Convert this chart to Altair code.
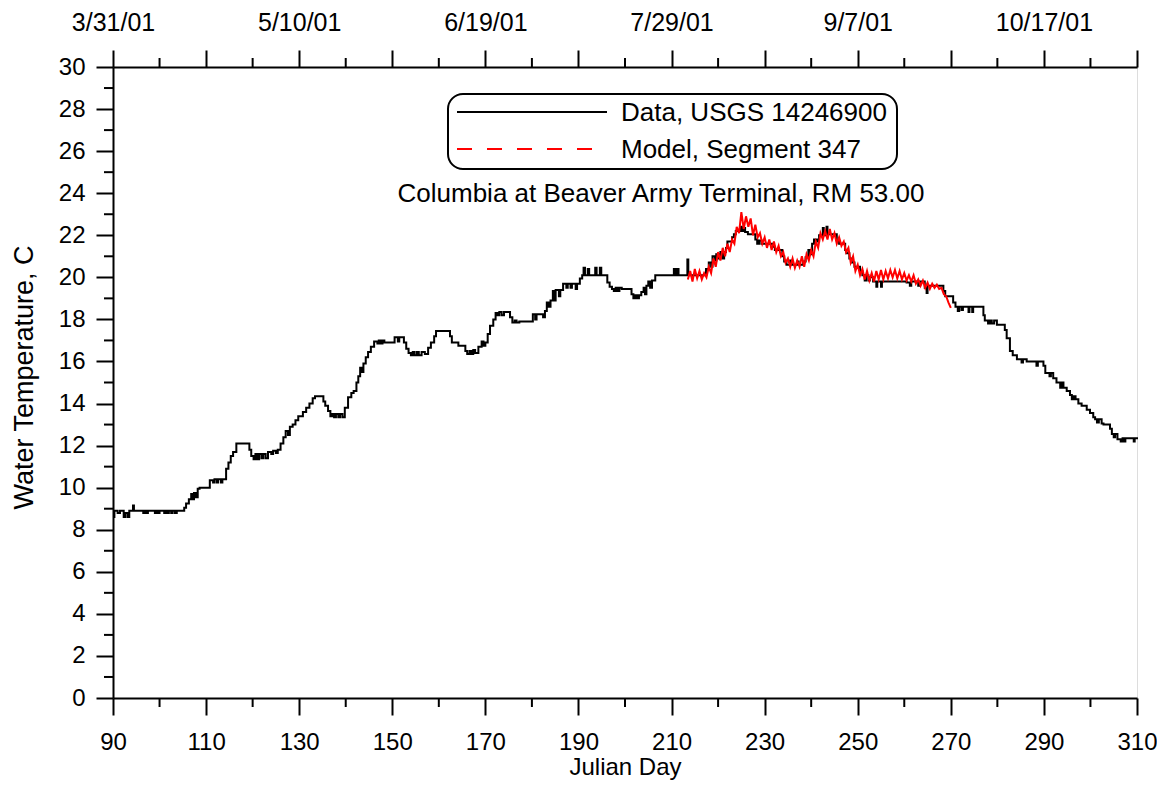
import altair as alt
import pandas as pd

# ---------------- data ----------------
# Observed data, USGS 14246900: step change points (day, deg C)
data_spring = [
    (90.0, 8.6), (90.3, 8.9), (91.0, 8.8), (91.5, 8.9), (92.3, 8.6), (92.7, 8.8), (93.2, 8.6), (93.5, 8.9),
    (94.3, 9.15), (94.5, 8.9), (96.5, 8.8), (96.8, 8.9), (97.2, 8.8), (97.5, 8.9), (99.0, 8.8), (99.3, 8.9),
    (99.7, 8.8), (100.0, 8.9), (101.0, 8.8), (101.3, 8.9), (101.7, 8.8), (102.0, 8.9), (102.5, 8.8), (102.8, 8.9),
    (103.3, 8.8), (103.7, 8.9), (105.3, 9.05), (105.7, 9.25), (106.3, 9.45), (106.8, 9.7), (107.1, 9.45),
    (107.4, 9.75), (107.8, 9.55), (108.2, 9.95), (108.6, 10.0), (110.8, 10.35), (111.5, 10.25), (111.8, 10.4),
    (112.3, 10.25), (112.6, 10.4), (113.2, 10.25), (113.5, 10.4), (114.3, 10.9), (114.8, 11.2), (115.3, 11.5),
    (115.8, 11.7), (116.5, 12.1), (119.3, 11.8), (119.7, 11.5), (120.2, 11.35), (120.6, 11.6), (121.0, 11.35),
    (121.4, 11.6), (121.9, 11.4), (122.3, 11.6), (122.8, 11.4), (123.3, 11.7), (124.0, 11.6), (124.4, 11.75),
    (125.0, 11.65), (125.4, 11.8), (126.0, 12.1), (126.6, 12.4), (127.1, 12.7), (127.6, 12.5), (128.0, 12.9),
    (128.6, 13.0), (129.2, 13.2), (129.8, 13.4), (130.8, 13.6), (131.5, 13.8), (132.2, 14.0), (132.9, 14.25),
    (133.4, 14.35), (135.2, 14.1), (135.6, 13.9), (136.2, 13.65), (136.7, 13.4), (137.1, 13.5), (137.5, 13.35),
    (137.9, 13.5), (138.4, 13.35), (138.8, 13.5), (139.3, 13.35), (139.8, 13.8), (140.5, 14.3), (141.2, 14.5),
    (141.7, 14.6), (142.3, 15.0), (142.7, 15.3), (143.1, 15.7), (143.5, 15.5), (143.8, 15.9), (144.3, 16.2),
    (144.8, 16.45), (145.4, 16.7), (146.1, 16.95), (146.8, 16.85), (147.1, 17.0), (147.5, 16.85), (147.9, 17.0),
    (148.3, 16.9),
]
data_summer = [
    (150.5, 17.15), (151.2, 16.95), (151.5, 17.15), (152.5, 16.9), (153.0, 16.6), (153.5, 16.4), (154.0, 16.3),
    (154.4, 16.45), (154.8, 16.3), (155.3, 16.45), (155.7, 16.3), (156.3, 16.45), (157.0, 16.35), (157.7, 16.65),
    (158.3, 16.9), (159.0, 17.2), (159.4, 17.45), (162.4, 17.2), (162.8, 16.9), (164.2, 16.75), (165.7, 16.5),
    (166.1, 16.35), (166.6, 16.5), (167.0, 16.35), (167.4, 16.55), (167.8, 16.4), (168.5, 16.7), (169.2, 16.95),
    (169.6, 16.75), (170.0, 16.9), (170.5, 17.3), (171.0, 17.7), (171.7, 18.0), (172.2, 18.3), (172.6, 18.2),
    (173.0, 18.35), (173.5, 18.2), (174.0, 18.35), (175.3, 18.1), (175.8, 17.85), (176.3, 17.95), (176.7, 17.85),
    (177.3, 17.9), (180.2, 18.25), (180.7, 18.0), (181.0, 18.25), (182.4, 18.1), (182.8, 18.4), (183.2, 18.8),
    (183.6, 18.6), (184.0, 18.9), (184.5, 19.35), (184.8, 18.9), (185.1, 19.4), (185.8, 19.1), (186.1, 19.4),
    (186.7, 19.7), (187.4, 19.5), (187.7, 19.7), (188.3, 19.5), (188.6, 19.7), (189.4, 19.45), (189.7, 19.7),
    (190.3, 19.95), (190.8, 20.1), (191.1, 20.45), (191.4, 20.1), (192.0, 20.4), (192.3, 20.1), (193.6, 20.45),
    (193.9, 20.1), (194.6, 20.45), (194.9, 20.1), (196.2, 19.75), (196.7, 19.55), (197.2, 19.45), (197.6, 19.35),
    (198.0, 19.5), (198.4, 19.35), (198.8, 19.5), (199.3, 19.45), (201.4, 19.2), (201.8, 19.0), (202.2, 19.15),
    (202.6, 19.0), (203.0, 19.15), (203.5, 19.3), (204.0, 19.5), (204.3, 19.2), (204.6, 19.6), (205.0, 19.8),
    (205.4, 19.5), (205.8, 19.85), (206.5, 20.1), (210.5, 20.4), (210.8, 20.1), (211.2, 20.4), (211.5, 20.1),
]
data_late_summer = [
    (213.4, 20.85), (213.6, 20.1), (217.4, 20.4), (218.0, 20.7), (218.5, 20.5), (218.8, 21.0), (219.3, 20.8),
    (219.6, 21.1), (220.2, 20.9), (220.5, 21.2), (221.0, 20.9), (221.3, 21.2), (221.7, 21.4), (222.0, 21.7),
    (223.0, 21.9), (223.4, 22.05), (223.8, 22.2), (224.8, 22.4), (225.1, 22.2), (225.4, 22.35), (225.8, 22.15),
    (226.4, 22.05), (228.0, 21.8), (228.4, 21.6), (228.8, 21.75), (229.3, 21.6), (231.7, 21.45), (232.2, 21.3),
    (233.8, 21.0), (234.2, 20.75), (234.7, 20.6), (235.5, 20.8), (235.8, 20.6), (237.0, 20.75), (237.3, 20.6),
    (238.3, 20.75), (238.8, 20.95), (239.4, 21.3), (239.8, 21.1), (240.2, 21.6), (240.6, 21.8), (241.3, 21.7),
    (241.7, 22.0), (242.5, 22.35), (242.7, 22.0), (243.3, 22.4), (243.5, 22.05), (245.5, 21.75), (246.0, 21.6),
    (247.3, 21.3), (247.6, 21.15), (248.2, 20.9), (248.7, 20.7), (249.3, 20.5), (250.5, 20.3), (251.0, 20.1),
    (251.5, 19.85), (251.8, 20.1), (252.3, 19.85), (252.6, 20.0), (253.3, 19.8), (254.0, 19.55), (254.2, 19.8),
    (255.0, 19.55), (255.2, 19.8), (260.5, 19.75), (261.2, 19.6), (261.5, 19.8), (263.0, 19.6), (263.3, 19.8),
    (264.4, 19.5), (264.8, 19.25), (265.0, 19.6), (268.4, 19.35), (268.8, 19.1),
]
data_fall = [
    (270.5, 18.8), (271.0, 18.6), (271.5, 18.4), (271.8, 18.6), (272.3, 18.45), (272.6, 18.6), (273.8, 18.35),
    (274.0, 18.6), (274.6, 18.35), (274.8, 18.6), (277.0, 18.2), (277.3, 17.95), (278.0, 17.8), (278.4, 17.95),
    (278.8, 17.8), (279.3, 17.95), (279.9, 17.75), (281.6, 17.5), (282.0, 17.1), (282.7, 16.5), (283.3, 16.3),
    (284.2, 16.1), (285.2, 15.95), (285.5, 16.1), (286.3, 16.0), (288.4, 15.8), (288.7, 16.0), (289.9, 15.8),
    (290.3, 15.45), (291.2, 15.3), (291.5, 15.45), (292.0, 15.2), (292.7, 15.0), (293.5, 14.75), (293.8, 15.0),
    (294.2, 14.75), (294.9, 14.6), (295.6, 14.4), (296.0, 14.2), (296.4, 14.35), (296.8, 14.2), (297.4, 14.0),
    (298.1, 13.9), (299.2, 13.7), (299.9, 13.55), (300.6, 13.35), (301.0, 13.25), (301.4, 13.1), (301.8, 13.25),
    (302.4, 13.05), (302.8, 13.0), (304.2, 12.8), (304.6, 12.55), (305.0, 12.4), (305.3, 12.55), (305.8, 12.3),
    (306.5, 12.2), (306.9, 12.35), (307.2, 12.2), (307.5, 12.35), (309.3, 12.2), (309.5, 12.35), (310.0, 12.3),
]

# Model, Segment 347 (day, deg C)
model_aug = [
    (213.5, 19.9), (214.0, 20.3), (214.5, 19.8), (215.0, 20.4), (215.5, 19.95), (216.0, 20.3), (216.5, 19.9),
    (217.0, 20.2), (217.5, 20.0), (218.0, 20.5), (218.5, 20.2), (219.0, 20.9), (219.5, 20.5), (220.0, 21.2),
    (220.5, 20.8), (221.0, 21.4), (221.5, 21.0), (222.0, 21.6), (222.5, 21.2), (223.0, 21.8), (223.5, 21.6),
    (224.0, 22.4), (224.5, 22.1), (225.0, 23.1), (225.5, 22.3), (226.0, 22.9), (226.5, 22.4), (227.0, 22.8),
    (227.5, 22.0), (228.0, 22.5), (228.5, 21.9), (229.0, 22.1), (229.5, 21.6), (230.0, 21.9), (230.5, 21.4),
    (231.0, 21.8), (231.5, 21.3), (232.0, 21.7), (232.5, 21.2), (233.0, 21.5), (233.5, 21.0), (234.0, 21.2),
    (234.5, 20.7), (235.0, 20.9), (235.5, 20.5), (236.0, 20.9), (236.5, 20.45), (237.0, 20.8), (237.5, 20.5),
    (238.0, 21.0), (238.5, 20.5), (239.0, 21.1), (239.5, 20.8), (240.0, 21.3), (240.5, 21.0), (241.0, 21.7),
]
model_sep = [
    (241.5, 21.4), (242.0, 22.1), (242.5, 21.8), (243.0, 22.2), (243.5, 21.8), (244.0, 22.3), (244.5, 21.8),
    (245.0, 22.1), (245.5, 21.6), (246.0, 21.9), (246.5, 21.5), (247.0, 21.7), (247.5, 21.2), (248.0, 21.4),
    (248.5, 20.7), (249.0, 21.0), (249.5, 20.3), (250.0, 20.6), (250.5, 20.1), (251.0, 20.4), (251.5, 19.9),
    (252.0, 20.3), (252.5, 19.85), (253.0, 20.2), (253.5, 19.8), (254.0, 20.3), (254.5, 19.9), (255.0, 20.35),
    (255.5, 19.9), (256.0, 20.3), (256.5, 19.95), (257.0, 20.35), (257.5, 20.0), (258.0, 20.35), (258.5, 19.95),
    (259.0, 20.3), (259.5, 19.9), (260.0, 20.2), (260.5, 19.85), (261.0, 20.1), (261.5, 19.8), (262.0, 20.1),
    (262.5, 19.7), (263.0, 19.9), (263.5, 19.6), (264.0, 19.85), (264.5, 19.5), (265.0, 19.75), (265.5, 19.45),
    (266.0, 19.7), (266.5, 19.5), (267.0, 19.65), (267.5, 19.45), (268.0, 19.5), (268.5, 19.2), (269.0, 19.1),
    (269.5, 18.8), (270.0, 18.55),
]

# axis ticks and labels
x_major_ticks = [90, 110, 130, 150, 170, 190, 210, 230, 250, 270, 290, 310]
x_minor_ticks = [100, 120, 140, 160, 180, 200, 220, 240, 260, 280, 300]
y_major_ticks = [0, 2, 4, 6, 8, 10, 12, 14, 16, 18, 20, 22, 24, 26, 28, 30]
y_minor_ticks = [1, 3, 5, 7, 9, 11, 13, 15, 17, 19, 21, 23, 25, 27, 29]
date_label_days = [90, 130, 170, 210, 250, 290]
date_labels = ["3/31/01", "5/10/01", "6/19/01", "7/29/01", "9/7/01", "10/17/01"]

series_names = ["Data, USGS 14246900", "Model, Segment 347"]
plot_title = "Columbia at Beaver Army Terminal, RM 53.00"

# ---------------- chart ----------------
W, H = 1024, 631
FONT = "Liberation Sans"
FS_TICK = 24
FS_TEXT = 26

data_df = pd.DataFrame(data_spring + data_summer + data_late_summer + data_fall, columns=["day", "temp"])
model_df = pd.DataFrame(model_aug + model_sep, columns=["day", "temp"])
x_minor_df = pd.DataFrame({"day": x_minor_ticks})
y_minor_df = pd.DataFrame({"t": y_minor_ticks})
one = pd.DataFrame({"k": [0]})

x_scale = alt.Scale(domain=[90, 310], nice=False, zero=False)
y_scale = alt.Scale(domain=[0, 30], nice=False, zero=False)

common_axis = dict(
    tickSize=17, tickWidth=2, tickColor="black", domainWidth=2, domainColor="black",
    labelFont=FONT, labelFontSize=FS_TICK, labelColor="black", labelFlush=False, labelOverlap=False,
    titleFont=FONT, titleFontWeight="normal", titleColor="black", grid=False,
)

bottom_axis = alt.Axis(values=x_major_ticks, title="Julian Day", titleFontSize=24,
                       labelPadding=15, titleY=69, titleBaseline="middle", **common_axis)
left_axis = alt.Axis(values=y_major_ticks, title="Water Temperature, C", titleFontSize=27,
                     labelPadding=11, titlePadding=20, titleY=310, **common_axis)

label_expr = " : ".join(
    f"datum.value == {d} ? '{s}'" for d, s in zip(date_label_days, date_labels)
) + " : ''"
top_axis = alt.Axis(orient="top", values=x_major_ticks, labelExpr=label_expr, title=None,
                    labelPadding=15, labelFontSize=25,
                    **{k: v for k, v in common_axis.items() if k != "labelFontSize"})

data_line = alt.Chart(data_df).mark_line(
    color="black", strokeWidth=2, interpolate="step-after"
).encode(
    x=alt.X("day:Q", scale=x_scale, axis=bottom_axis),
    y=alt.Y("temp:Q", scale=y_scale, axis=left_axis),
)

model_line = alt.Chart(model_df).mark_line(color="#ff0000", strokeWidth=2).encode(
    x=alt.X("day:Q", scale=x_scale, axis=None),
    y=alt.Y("temp:Q", scale=y_scale, axis=left_axis),
)

top_minor = alt.Chart(x_minor_df).mark_rule(color="black", strokeWidth=2).encode(
    x=alt.X("day:Q", scale=x_scale, axis=top_axis),
    y=alt.value(0), y2=alt.value(-9),
)
bottom_minor = alt.Chart(x_minor_df).mark_rule(color="black", strokeWidth=2).encode(
    x=alt.X("day:Q", scale=x_scale, axis=None),
    y=alt.value(H), y2=alt.value(H + 9),
)
left_minor = alt.Chart(y_minor_df).mark_rule(color="black", strokeWidth=2).encode(
    y=alt.Y("t:Q", scale=y_scale, axis=left_axis),
    x=alt.value(0), x2=alt.value(-9),
)

legend_box = alt.Chart(one).mark_rect(
    fill="white", stroke="black", strokeWidth=2, cornerRadius=15
).encode(x=alt.value(335), x2=alt.value(784), y=alt.value(27), y2=alt.value(102))

legend_data = alt.Chart(one).mark_rule(color="black", strokeWidth=2).encode(
    x=alt.value(344), x2=alt.value(494), y=alt.value(45)
)
legend_model = alt.Chart(one).mark_rule(color="#ff0000", strokeWidth=2, strokeDash=[15, 15]).encode(
    x=alt.value(344), x2=alt.value(494), y=alt.value(82)
)
legend_text_data = alt.Chart(one).mark_text(
    text=series_names[0], font=FONT, fontSize=FS_TEXT, align="left", baseline="middle", color="black"
).encode(x=alt.value(508), y=alt.value(46))
legend_text_model = alt.Chart(one).mark_text(
    text=series_names[1], font=FONT, fontSize=FS_TEXT, align="left", baseline="middle", color="black"
).encode(x=alt.value(508), y=alt.value(83))
title_text = alt.Chart(one).mark_text(
    text=plot_title, font=FONT, fontSize=FS_TEXT, align="center", baseline="middle", color="black"
).encode(x=alt.value(548), y=alt.value(127))

chart = alt.layer(
    data_line, model_line, top_minor, bottom_minor, left_minor,
    legend_box, legend_data, legend_model, legend_text_data, legend_text_model, title_text,
).resolve_axis(x="independent").properties(
    width=W, height=H,
    autosize=alt.AutoSizeParams(type="none"),
    padding={"left": 105, "top": 59, "right": 20, "bottom": 83},
).configure_view(stroke=None).configure(background="white")

chart.save("out.html", embed_options={"renderer": "svg", "actions": False})
